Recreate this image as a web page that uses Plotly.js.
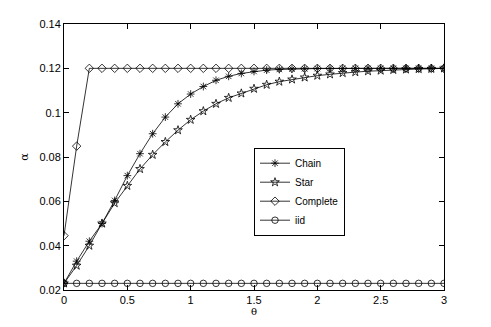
<!DOCTYPE html>
<html>
<head>
<meta charset="utf-8">
<script src="https://cdn.plot.ly/plotly-3.0.1.min.js"></script>
<style>
  html, body { margin: 0; padding: 0; background: #fff; }
  #chart { width: 491px; height: 327px; }
</style>
</head>
<body>
<div id="chart"></div>
<script>
// theta grid, 0 to 3 in steps of 0.1
const theta = [0, 0.1, 0.2, 0.3, 0.4, 0.5, 0.6, 0.7, 0.8, 0.9, 1.0,
               1.1, 1.2, 1.3, 1.4, 1.5, 1.6, 1.7, 1.8, 1.9, 2.0,
               2.1, 2.2, 2.3, 2.4, 2.5, 2.6, 2.7, 2.8, 2.9, 3.0];

const chain = [0.023, 0.033, 0.042, 0.050, 0.0604, 0.0716, 0.0815, 0.0905, 0.098, 0.104, 0.1084,
               0.1118, 0.1146, 0.1164, 0.1177, 0.1186, 0.1192, 0.1195, 0.1197, 0.1198, 0.1199,
               0.1199, 0.12, 0.12, 0.12, 0.12, 0.12, 0.12, 0.12, 0.12, 0.12];

const star = [0.023, 0.031, 0.040, 0.050, 0.0592, 0.067, 0.0746, 0.081, 0.0868, 0.0921, 0.0968,
              0.1007, 0.104, 0.1067, 0.1087, 0.1108, 0.1126, 0.114, 0.115, 0.1159, 0.1167,
              0.1173, 0.1179, 0.1183, 0.1187, 0.119, 0.1193, 0.1195, 0.1197, 0.1198, 0.12];

const complete = [0.0445, 0.0849, 0.12, 0.12, 0.12, 0.12, 0.12, 0.12, 0.12, 0.12, 0.12,
                  0.12, 0.12, 0.12, 0.12, 0.12, 0.12, 0.12, 0.12, 0.12, 0.12,
                  0.12, 0.12, 0.12, 0.12, 0.12, 0.12, 0.12, 0.12, 0.12, 0.12];

const iid = theta.map(() => 0.023);

const seriesNames = ['Chain', 'Star', 'Complete', 'iid'];
const seriesData = [chain, star, complete, iid];
const symbols = ['asterisk-open', 'star-open', 'diamond-open', 'circle-open'];

const traces = seriesData.map((y, i) => ({
    x: theta,
    y: y,
    mode: 'lines+markers',
    name: seriesNames[i],
    line: { color: '#000', width: 0.8 },
    marker: { symbol: symbols[i], size: 6.5, color: '#000', line: { color: '#000', width: 0.8 } }
}));

const axisCommon = {
    showgrid: false,
    zeroline: false,
    showline: true,
    linecolor: '#000',
    linewidth: 1,
    mirror: 'allticks',
    ticks: 'inside',
    ticklen: 5,
    tickcolor: '#000',
    tickfont: { family: 'Liberation Sans, Arial, sans-serif', size: 11, color: '#000' }
};

const layout = {
    width: 491,
    height: 327,
    margin: { l: 64, r: 47, t: 24, b: 37 },
    paper_bgcolor: '#fff',
    plot_bgcolor: '#fff',
    showlegend: true,
    legend: {
        x: 0.5, y: 0.535, xanchor: 'left', yanchor: 'top',
        bordercolor: '#000', borderwidth: 1, bgcolor: '#fff',
        font: { family: 'Liberation Sans, Arial, sans-serif', size: 10, color: '#000' },
        tracegroupgap: 0,
        itemwidth: 30
    },
    xaxis: Object.assign({}, axisCommon, {
        range: [0, 3],
        dtick: 0.5,
        title: { text: 'θ', standoff: 2, font: { family: 'DejaVu Serif, serif', size: 10, color: '#000' } }
    }),
    yaxis: Object.assign({}, axisCommon, {
        range: [0.02, 0.14],
        dtick: 0.02,
        title: { text: 'α', standoff: 8, font: { family: 'DejaVu Serif, serif', size: 11, color: '#000' } }
    })
};

Plotly.newPlot('chart', traces, layout, { displayModeBar: false, staticPlot: true });
</script>
</body>
</html>
